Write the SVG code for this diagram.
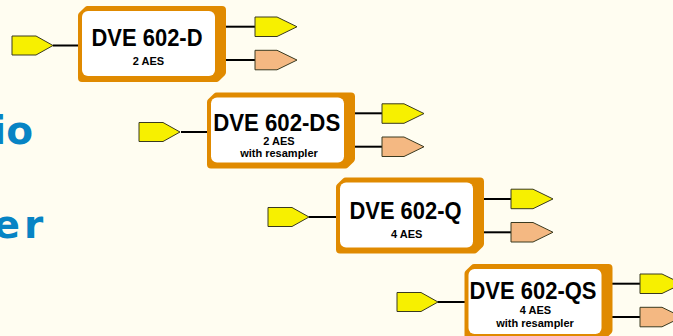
<svg xmlns="http://www.w3.org/2000/svg" xmlns:xlink="http://www.w3.org/1999/xlink" width="673" height="336" viewBox="0 0 673 336">
<style>
.title{font-family:"Liberation Sans",Arial,sans-serif;font-weight:bold;font-size:24px;fill:#000;text-anchor:middle}
.sub{font-family:"Liberation Sans",Arial,sans-serif;font-weight:bold;font-size:11px;fill:#000;text-anchor:middle}
.big{font-family:"DejaVu Sans",Verdana,sans-serif;font-weight:bold;font-size:39px;fill:#0784C4}
.wire{stroke:#000;stroke-width:2;fill:none}
.yel{fill:#F7F000;stroke:#3a3a20;stroke-width:1}
.pch{fill:#F4B882;stroke:#3a3a20;stroke-width:1}
</style>
<defs>
<g id="box">
<path d="M4,9.66 L9.66,4 L144,4 L144,66.34 L138.34,72 L4,72 Z" fill="#E08A00" stroke="#E08A00" stroke-width="8" stroke-linejoin="round"/>
<rect x="4" y="5" width="133" height="65" rx="6" fill="#FFFFFF"/>
</g>
<polygon id="inArrow" points="0,0 24,0 41,9.5 24,19 0,19"/>
<polygon id="outArrow" points="0,0 22,0 42,9.75 22,19.5 0,19.5"/>
</defs>
<rect x="0" y="0" width="673" height="336" fill="#FFFDF1"/>
<text class="big" x="-7.3 6.3" y="143.5">io</text>
<text class="big" x="-6.6 24" y="237.5">er</text>
<g id="connectors">
<line class="wire" x1="53" y1="45.5" x2="79" y2="45.5"/>
<line class="wire" x1="225" y1="26.7" x2="255" y2="26.7"/>
<line class="wire" x1="225" y1="60" x2="255" y2="60"/>
<use href="#inArrow" class="yel" x="12" y="36"/>
<use href="#outArrow" class="yel" x="255" y="17"/>
<use href="#outArrow" class="pch" x="255" y="50.3"/>
<line class="wire" x1="181" y1="132" x2="208" y2="132"/>
<line class="wire" x1="354" y1="113.3" x2="382" y2="113.3"/>
<line class="wire" x1="354" y1="146.7" x2="382" y2="146.7"/>
<use href="#inArrow" class="yel" x="139" y="122.5"/>
<use href="#outArrow" class="yel" x="382" y="103.8"/>
<use href="#outArrow" class="pch" x="382" y="137"/>
<line class="wire" x1="309" y1="217" x2="337" y2="217"/>
<line class="wire" x1="481" y1="199" x2="511" y2="199"/>
<line class="wire" x1="481" y1="232.3" x2="511" y2="232.3"/>
<use href="#inArrow" class="yel" x="268" y="207.5"/>
<use href="#outArrow" class="yel" x="511" y="189.2"/>
<use href="#outArrow" class="pch" x="511" y="222.5"/>
<line class="wire" x1="437.5" y1="302" x2="465" y2="302"/>
<line class="wire" x1="610" y1="283.7" x2="640" y2="283.7"/>
<line class="wire" x1="610" y1="317" x2="640" y2="317"/>
<use href="#inArrow" class="yel" x="397" y="292.5"/>
<use href="#outArrow" class="yel" x="640" y="274"/>
<use href="#outArrow" class="pch" x="640" y="307.3"/>
</g>
<g id="node-d">
<use href="#box" x="78" y="6"/>
<text class="title" x="147" y="46" textLength="111" lengthAdjust="spacingAndGlyphs">DVE 602-D</text>
<text class="sub" x="148.5" y="65">2 AES</text>
</g>
<g id="node-ds">
<use href="#box" x="207" y="92.5"/>
<text class="title" x="276.7" y="130.7" textLength="127" lengthAdjust="spacingAndGlyphs">DVE 602-DS</text>
<text class="sub" x="279" y="145">2 AES</text>
<text class="sub" x="279" y="157">with resampler</text>
</g>
<g id="node-q">
<use href="#box" x="336" y="177.5"/>
<text class="title" x="405.5" y="219.3" textLength="112" lengthAdjust="spacingAndGlyphs">DVE 602-Q</text>
<text class="sub" x="406.7" y="238">4 AES</text>
</g>
<g id="node-qs">
<use href="#box" x="464.5" y="264"/>
<text class="title" x="533" y="299.3" textLength="127" lengthAdjust="spacingAndGlyphs">DVE 602-QS</text>
<text class="sub" x="535.5" y="314">4 AES</text>
<text class="sub" x="535" y="327">with resampler</text>
</g>
</svg>
